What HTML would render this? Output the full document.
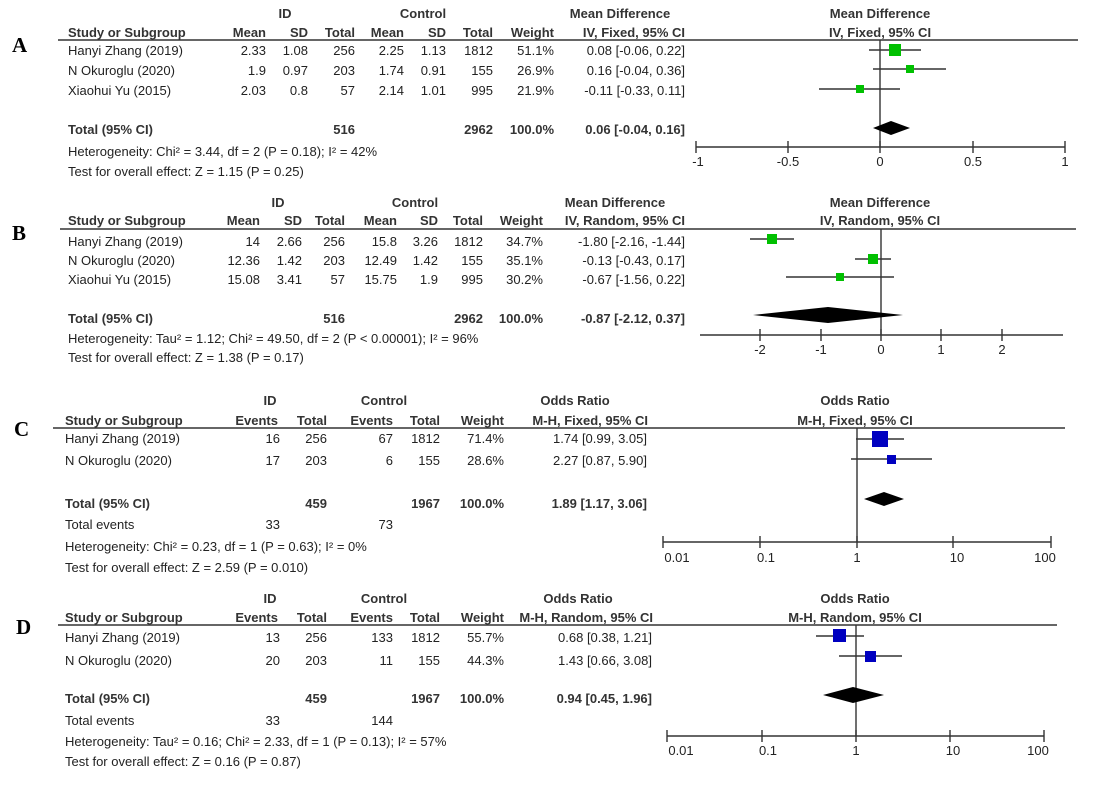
<!DOCTYPE html>
<html><head><meta charset="utf-8"><style>
html,body{margin:0;padding:0;background:#fff;}
svg{display:block;}
text{font-family:"Liberation Sans",Arial,sans-serif;font-size:13px;fill:#222;}
.b{font-weight:bold;fill:#333;}
.e{text-anchor:end;}
.m{text-anchor:middle;}
.L{font-family:"Liberation Serif",serif;font-size:21px;font-weight:bold;fill:#000;}
line{stroke:#333;stroke-width:1.4;}
</style></head><body>
<svg width="1094" height="798" viewBox="0 0 1094 798" xmlns="http://www.w3.org/2000/svg">
<!-- Panel A -->
<text class="L" x="12" y="52">A</text>
<text class="b m" x="285" y="18">ID</text>
<text class="b m" x="423" y="18">Control</text>
<text class="b m" x="620" y="18">Mean Difference</text>
<text class="b" x="68" y="37">Study or Subgroup</text>
<text class="b e" x="266" y="37">Mean</text><text class="b e" x="308" y="37">SD</text><text class="b e" x="355" y="37">Total</text>
<text class="b e" x="404" y="37">Mean</text><text class="b e" x="446" y="37">SD</text><text class="b e" x="493" y="37">Total</text>
<text class="b e" x="554" y="37">Weight</text><text class="b e" x="685" y="37">IV, Fixed, 95% CI</text>
<text class="b m" x="880" y="18">Mean Difference</text><text class="b m" x="880" y="37">IV, Fixed, 95% CI</text>
<line x1="58" y1="40" x2="1078" y2="40"/>
<g>
<text x="68" y="55">Hanyi Zhang (2019)</text><text class="e" x="266" y="55">2.33</text><text class="e" x="308" y="55">1.08</text><text class="e" x="355" y="55">256</text><text class="e" x="404" y="55">2.25</text><text class="e" x="446" y="55">1.13</text><text class="e" x="493" y="55">1812</text><text class="e" x="554" y="55">51.1%</text><text class="e" x="685" y="55">0.08 [-0.06, 0.22]</text>
<text x="68" y="75">N Okuroglu (2020)</text><text class="e" x="266" y="75">1.9</text><text class="e" x="308" y="75">0.97</text><text class="e" x="355" y="75">203</text><text class="e" x="404" y="75">1.74</text><text class="e" x="446" y="75">0.91</text><text class="e" x="493" y="75">155</text><text class="e" x="554" y="75">26.9%</text><text class="e" x="685" y="75">0.16 [-0.04, 0.36]</text>
<text x="68" y="95">Xiaohui Yu (2015)</text><text class="e" x="266" y="95">2.03</text><text class="e" x="308" y="95">0.8</text><text class="e" x="355" y="95">57</text><text class="e" x="404" y="95">2.14</text><text class="e" x="446" y="95">1.01</text><text class="e" x="493" y="95">995</text><text class="e" x="554" y="95">21.9%</text><text class="e" x="685" y="95">-0.11 [-0.33, 0.11]</text>
<text class="b" x="68" y="134">Total (95% CI)</text><text class="b e" x="355" y="134">516</text><text class="b e" x="493" y="134">2962</text><text class="b e" x="554" y="134">100.0%</text><text class="b e" x="685" y="134">0.06 [-0.04, 0.16]</text>
<text x="68" y="156">Heterogeneity: Chi² = 3.44, df = 2 (P = 0.18); I² = 42%</text>
<text x="68" y="176">Test for overall effect: Z = 1.15 (P = 0.25)</text>
</g>
<line x1="880" y1="40" x2="880" y2="147"/>
<line x1="696" y1="147" x2="1065" y2="147"/>
<line x1="696" y1="141" x2="696" y2="153"/><line x1="788" y1="141" x2="788" y2="153"/><line x1="880" y1="141" x2="880" y2="153"/><line x1="973" y1="141" x2="973" y2="153"/><line x1="1065" y1="141" x2="1065" y2="153"/>
<text class="m" x="698" y="166">-1</text><text class="m" x="788" y="166">-0.5</text><text class="m" x="880" y="166">0</text><text class="m" x="973" y="166">0.5</text><text class="m" x="1065" y="166">1</text>
<line x1="869" y1="50" x2="921" y2="50"/><rect x="889" y="44" width="12" height="12" fill="#00c000"/>
<line x1="873" y1="69" x2="946" y2="69"/><rect x="906" y="65" width="8" height="8" fill="#00c000"/>
<line x1="819" y1="89" x2="900" y2="89"/><rect x="856" y="85" width="8" height="8" fill="#00c000"/>
<polygon points="873,128 891,121 910,128 891,135" fill="#000"/>

<!-- Panel B -->
<text class="L" x="12" y="240">B</text>
<text class="b m" x="278" y="207">ID</text>
<text class="b m" x="415" y="207">Control</text>
<text class="b m" x="615" y="207">Mean Difference</text>
<text class="b" x="68" y="225">Study or Subgroup</text>
<text class="b e" x="260" y="225">Mean</text><text class="b e" x="302" y="225">SD</text><text class="b e" x="345" y="225">Total</text>
<text class="b e" x="397" y="225">Mean</text><text class="b e" x="438" y="225">SD</text><text class="b e" x="483" y="225">Total</text>
<text class="b e" x="543" y="225">Weight</text><text class="b e" x="685" y="225">IV, Random, 95% CI</text>
<text class="b m" x="880" y="207">Mean Difference</text><text class="b m" x="880" y="225">IV, Random, 95% CI</text>
<line x1="60" y1="229" x2="1076" y2="229"/>
<text x="68" y="246">Hanyi Zhang (2019)</text><text class="e" x="260" y="246">14</text><text class="e" x="302" y="246">2.66</text><text class="e" x="345" y="246">256</text><text class="e" x="397" y="246">15.8</text><text class="e" x="438" y="246">3.26</text><text class="e" x="483" y="246">1812</text><text class="e" x="543" y="246">34.7%</text><text class="e" x="685" y="246">-1.80 [-2.16, -1.44]</text>
<text x="68" y="265">N Okuroglu (2020)</text><text class="e" x="260" y="265">12.36</text><text class="e" x="302" y="265">1.42</text><text class="e" x="345" y="265">203</text><text class="e" x="397" y="265">12.49</text><text class="e" x="438" y="265">1.42</text><text class="e" x="483" y="265">155</text><text class="e" x="543" y="265">35.1%</text><text class="e" x="685" y="265">-0.13 [-0.43, 0.17]</text>
<text x="68" y="284">Xiaohui Yu (2015)</text><text class="e" x="260" y="284">15.08</text><text class="e" x="302" y="284">3.41</text><text class="e" x="345" y="284">57</text><text class="e" x="397" y="284">15.75</text><text class="e" x="438" y="284">1.9</text><text class="e" x="483" y="284">995</text><text class="e" x="543" y="284">30.2%</text><text class="e" x="685" y="284">-0.67 [-1.56, 0.22]</text>
<text class="b" x="68" y="323">Total (95% CI)</text><text class="b e" x="345" y="323">516</text><text class="b e" x="483" y="323">2962</text><text class="b e" x="543" y="323">100.0%</text><text class="b e" x="685" y="323">-0.87 [-2.12, 0.37]</text>
<text x="68" y="343">Heterogeneity: Tau² = 1.12; Chi² = 49.50, df = 2 (P &lt; 0.00001); I² = 96%</text>
<text x="68" y="362">Test for overall effect: Z = 1.38 (P = 0.17)</text>
<line x1="881" y1="229" x2="881" y2="335"/>
<line x1="700" y1="335" x2="1063" y2="335"/>
<line x1="760" y1="329" x2="760" y2="341"/><line x1="821" y1="329" x2="821" y2="341"/><line x1="881" y1="329" x2="881" y2="341"/><line x1="941" y1="329" x2="941" y2="341"/><line x1="1002" y1="329" x2="1002" y2="341"/>
<text class="m" x="760" y="354">-2</text><text class="m" x="821" y="354">-1</text><text class="m" x="881" y="354">0</text><text class="m" x="941" y="354">1</text><text class="m" x="1002" y="354">2</text>
<line x1="750" y1="239" x2="794" y2="239"/><rect x="767" y="234" width="10" height="10" fill="#00c000"/>
<line x1="855" y1="259" x2="891" y2="259"/><rect x="868" y="254" width="10" height="10" fill="#00c000"/>
<line x1="786" y1="277" x2="894" y2="277"/><rect x="836" y="273" width="8" height="8" fill="#00c000"/>
<polygon points="753,315 828,307 903,315 828,323" fill="#000"/>

<!-- Panel C -->
<text class="L" x="14" y="436">C</text>
<text class="b m" x="270" y="405">ID</text>
<text class="b m" x="384" y="405">Control</text>
<text class="b m" x="575" y="405">Odds Ratio</text>
<text class="b" x="65" y="425">Study or Subgroup</text>
<text class="b e" x="278" y="425">Events</text><text class="b e" x="327" y="425">Total</text><text class="b e" x="393" y="425">Events</text><text class="b e" x="440" y="425">Total</text><text class="b e" x="504" y="425">Weight</text><text class="b e" x="648" y="425">M-H, Fixed, 95% CI</text>
<text class="b m" x="855" y="405">Odds Ratio</text><text class="b m" x="855" y="425">M-H, Fixed, 95% CI</text>
<line x1="53" y1="428" x2="1065" y2="428"/>
<text x="65" y="443">Hanyi Zhang (2019)</text><text class="e" x="280" y="443">16</text><text class="e" x="327" y="443">256</text><text class="e" x="393" y="443">67</text><text class="e" x="440" y="443">1812</text><text class="e" x="504" y="443">71.4%</text><text class="e" x="647" y="443">1.74 [0.99, 3.05]</text>
<text x="65" y="465">N Okuroglu (2020)</text><text class="e" x="280" y="465">17</text><text class="e" x="327" y="465">203</text><text class="e" x="393" y="465">6</text><text class="e" x="440" y="465">155</text><text class="e" x="504" y="465">28.6%</text><text class="e" x="647" y="465">2.27 [0.87, 5.90]</text>
<text class="b" x="65" y="508">Total (95% CI)</text><text class="b e" x="327" y="508">459</text><text class="b e" x="440" y="508">1967</text><text class="b e" x="504" y="508">100.0%</text><text class="b e" x="647" y="508">1.89 [1.17, 3.06]</text>
<text x="65" y="529">Total events</text><text class="e" x="280" y="529">33</text><text class="e" x="393" y="529">73</text>
<text x="65" y="551">Heterogeneity: Chi² = 0.23, df = 1 (P = 0.63); I² = 0%</text>
<text x="65" y="572">Test for overall effect: Z = 2.59 (P = 0.010)</text>
<line x1="857" y1="428" x2="857" y2="542"/>
<line x1="663" y1="542" x2="1051" y2="542"/>
<line x1="663" y1="536" x2="663" y2="548"/><line x1="760" y1="536" x2="760" y2="548"/><line x1="857" y1="536" x2="857" y2="548"/><line x1="953" y1="536" x2="953" y2="548"/><line x1="1051" y1="536" x2="1051" y2="548"/>
<text class="m" x="677" y="562">0.01</text><text class="m" x="766" y="562">0.1</text><text class="m" x="857" y="562">1</text><text class="m" x="957" y="562">10</text><text class="m" x="1045" y="562">100</text>
<line x1="856" y1="439" x2="904" y2="439"/><rect x="872" y="431" width="16" height="16" fill="#0000c0"/>
<line x1="851" y1="459" x2="932" y2="459"/><rect x="887" y="455" width="9" height="9" fill="#0000c0"/>
<polygon points="864,499 884,492 904,499 884,506" fill="#000"/>

<!-- Panel D -->
<text class="L" x="16" y="634">D</text>
<text class="b m" x="270" y="603">ID</text>
<text class="b m" x="384" y="603">Control</text>
<text class="b m" x="578" y="603">Odds Ratio</text>
<text class="b" x="65" y="622">Study or Subgroup</text>
<text class="b e" x="278" y="622">Events</text><text class="b e" x="327" y="622">Total</text><text class="b e" x="393" y="622">Events</text><text class="b e" x="440" y="622">Total</text><text class="b e" x="504" y="622">Weight</text><text class="b e" x="653" y="622">M-H, Random, 95% CI</text>
<text class="b m" x="855" y="603">Odds Ratio</text><text class="b m" x="855" y="622">M-H, Random, 95% CI</text>
<line x1="58" y1="625" x2="1057" y2="625"/>
<text x="65" y="642">Hanyi Zhang (2019)</text><text class="e" x="280" y="642">13</text><text class="e" x="327" y="642">256</text><text class="e" x="393" y="642">133</text><text class="e" x="440" y="642">1812</text><text class="e" x="504" y="642">55.7%</text><text class="e" x="652" y="642">0.68 [0.38, 1.21]</text>
<text x="65" y="665">N Okuroglu (2020)</text><text class="e" x="280" y="665">20</text><text class="e" x="327" y="665">203</text><text class="e" x="393" y="665">11</text><text class="e" x="440" y="665">155</text><text class="e" x="504" y="665">44.3%</text><text class="e" x="652" y="665">1.43 [0.66, 3.08]</text>
<text class="b" x="65" y="703">Total (95% CI)</text><text class="b e" x="327" y="703">459</text><text class="b e" x="440" y="703">1967</text><text class="b e" x="504" y="703">100.0%</text><text class="b e" x="652" y="703">0.94 [0.45, 1.96]</text>
<text x="65" y="725">Total events</text><text class="e" x="280" y="725">33</text><text class="e" x="393" y="725">144</text>
<text x="65" y="746">Heterogeneity: Tau² = 0.16; Chi² = 2.33, df = 1 (P = 0.13); I² = 57%</text>
<text x="65" y="766">Test for overall effect: Z = 0.16 (P = 0.87)</text>
<line x1="856" y1="625" x2="856" y2="736"/>
<line x1="667" y1="736" x2="1044" y2="736"/>
<line x1="667" y1="730" x2="667" y2="742"/><line x1="762" y1="730" x2="762" y2="742"/><line x1="856" y1="730" x2="856" y2="742"/><line x1="950" y1="730" x2="950" y2="742"/><line x1="1044" y1="730" x2="1044" y2="742"/>
<text class="m" x="681" y="755">0.01</text><text class="m" x="768" y="755">0.1</text><text class="m" x="856" y="755">1</text><text class="m" x="953" y="755">10</text><text class="m" x="1038" y="755">100</text>
<line x1="816" y1="636" x2="864" y2="636"/><rect x="833" y="629" width="13" height="13" fill="#0000c0"/>
<line x1="839" y1="656" x2="902" y2="656"/><rect x="865" y="651" width="11" height="11" fill="#0000c0"/>
<polygon points="823,695 853,687 884,695 853,703" fill="#000"/>
</svg>
</body></html>
